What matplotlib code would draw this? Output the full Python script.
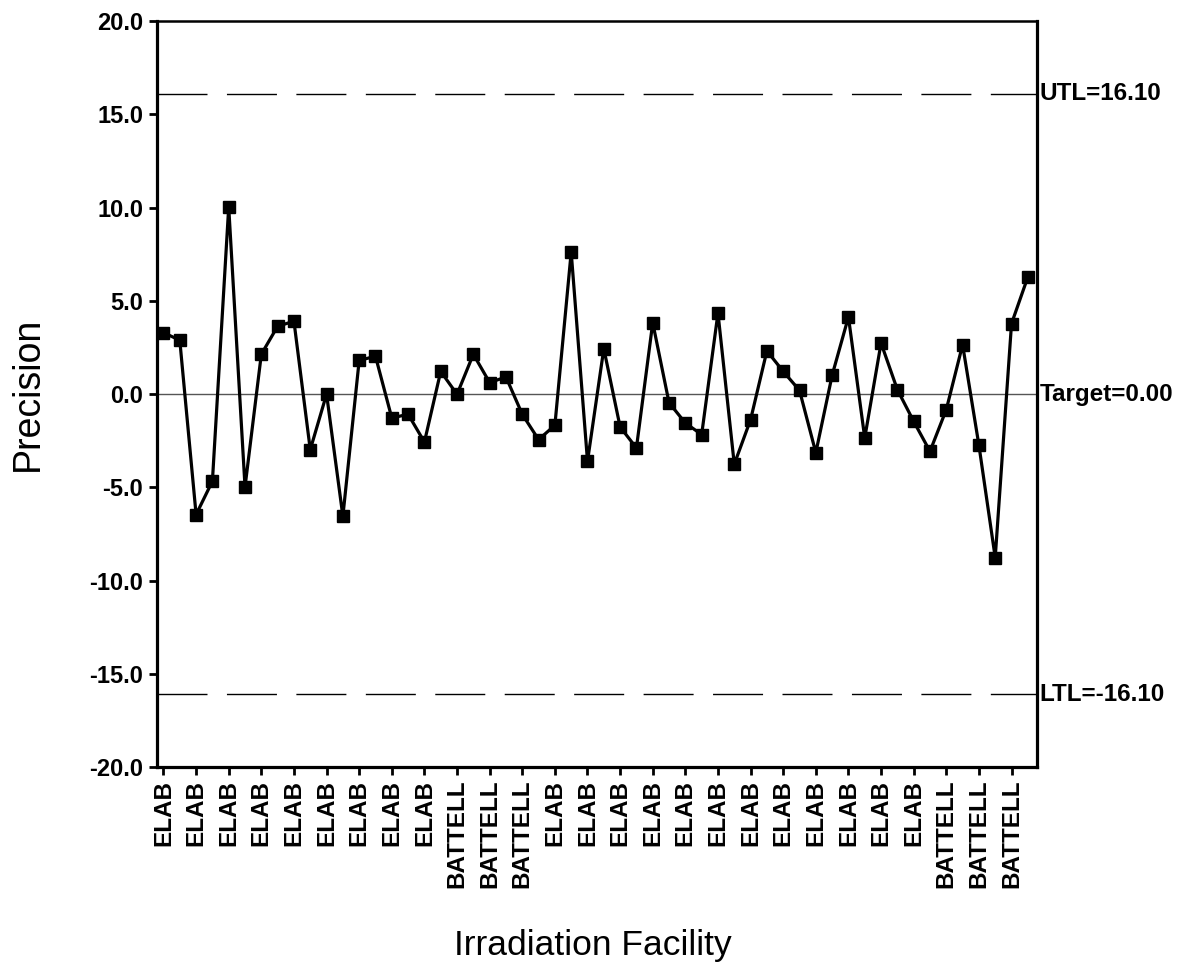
import matplotlib
matplotlib.use('Agg')
import matplotlib.pyplot as plt
import matplotlib.transforms as mtransforms

plt.rcParams['font.family'] = ['Liberation Sans', 'DejaVu Sans']

# Precision values, one per irradiation run
precision = [3.30, 2.89, -6.46, -4.67, 10.04, -4.98, 2.14, 3.64, 3.91, -2.98,
             0.00, -6.55, 1.81, 2.03, -1.28, -1.08, -2.57, 1.22, -0.01, 2.14,
             0.62, 0.92, -1.08, -2.44, -1.67, 7.62, -3.60, 2.44, -1.76, -2.89,
             3.83, -0.46, -1.55, -2.17, 4.35, -3.76, -1.37, 2.32, 1.22, 0.20,
             -3.14, 1.01, 4.14, -2.35, 2.74, 0.24, -1.46, -3.07, -0.83, 2.65,
             -2.74, -8.77, 3.78, 6.28]
run_index = list(range(1, len(precision) + 1))

# Facility labels, shown on every other run
facility_labels = (['ELAB'] * 9 + ['BATTELL'] * 3 + ['ELAB'] * 12 + ['BATTELL'] * 3)
label_positions = run_index[::2][:len(facility_labels)]

# Control limits
utl = 16.10
target = 0.00
ltl = -16.10
y_ticks = [-20, -15, -10, -5, 0, 5, 10, 15, 20]

fig = plt.figure(figsize=(11.81, 9.66), dpi=100)
ax = fig.add_axes([0.1329, 0.206, 0.745, 0.772])

# Limit and target lines
ax.axhline(utl, color='black', lw=1.0, dashes=(36, 14))
ax.axhline(ltl, color='black', lw=1.0, dashes=(36, 14))
ax.axhline(target, color='#555555', lw=1.0)

# The data series
ax.plot(run_index, precision, color='black', lw=2.3, marker='s',
        markersize=9, markerfacecolor='black', markeredgecolor='black')

ax.set_xlim(0.6, 54.55)
ax.set_ylim(-20, 20)
ax.set_yticks(y_ticks)
ax.set_yticklabels([f'{t:.1f}' for t in y_ticks], fontsize=17, fontweight='bold')
ax.set_xticks(label_positions)
ax.set_xticklabels(facility_labels, rotation=90, fontsize=17.5, fontweight='bold')
ax.tick_params(axis='both', direction='out', length=6, width=2)
ax.tick_params(axis='y', pad=4)
ax.tick_params(axis='x', pad=3)

for side in ['left', 'bottom', 'right']:
    ax.spines[side].set_linewidth(2.3)
ax.spines['top'].set_linewidth(1.8)

# Labels for the limit lines on the right side
trans = mtransforms.blended_transform_factory(ax.transAxes, ax.transData)
for val, txt in [(utl, 'UTL=16.10'), (target, 'Target=0.00'), (ltl, 'LTL=-16.10')]:
    ax.text(1.003, val, txt, transform=trans, ha='left', va='center',
            fontsize=17.5, fontweight='bold', clip_on=False)

# Axis titles
fig.text(28 / 1181, 1 - 394 / 966, 'Precision', rotation=90, ha='center',
         va='center', fontsize=27)
fig.text(593 / 1181, 11 / 966, 'Irradiation Facility', ha='center',
         va='baseline', fontsize=25.5)

fig.savefig('out.png', dpi=100, facecolor='white')
